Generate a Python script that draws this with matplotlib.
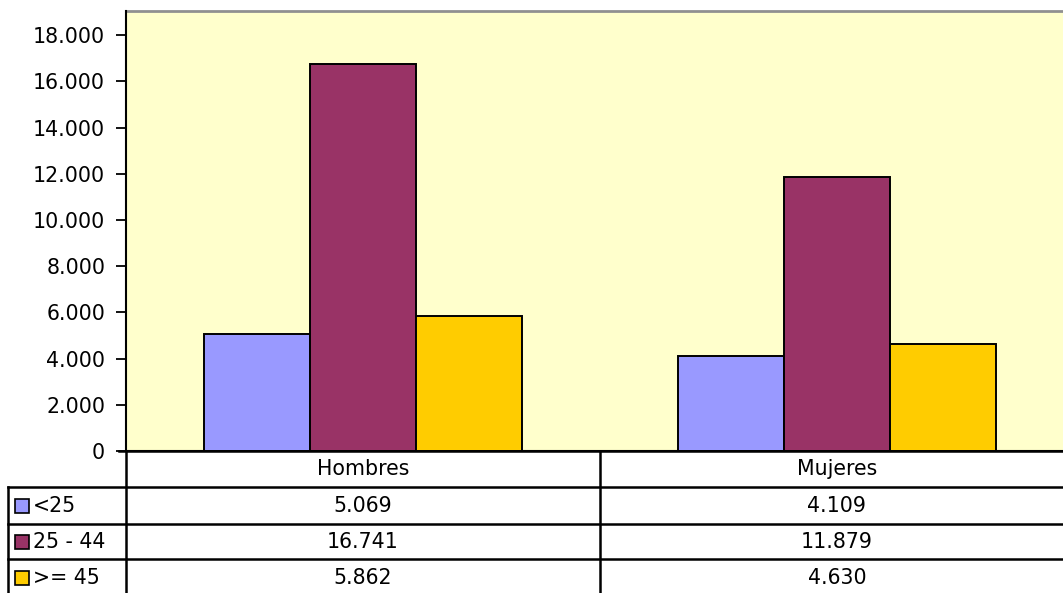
import matplotlib
matplotlib.use("Agg")
import matplotlib.pyplot as plt
import numpy as np
from matplotlib.lines import Line2D
from matplotlib.patches import Rectangle
from matplotlib.ticker import FuncFormatter, MultipleLocator
import matplotlib.transforms as mtransforms

categories = ["Hombres", "Mujeres"]
series_names = ["<25", "25 - 44", ">= 45"]
values_lt25 = [5069, 4109]
values_25_44 = [16741, 11879]
values_ge45 = [5862, 4630]
series_values = [values_lt25, values_25_44, values_ge45]
colors = ["#9999FF", "#993366", "#FFCC00"]

W, H = 1063, 593
fig = plt.figure(figsize=(W / 100, H / 100), dpi=100)
plt.rcParams['font.family'] = ['DejaVu Sans']
FS = 14.8

def fx(px):
    return px / W

def fy(py):
    return 1 - py / H

left_px, right_px, top_px, bottom_px = 126, 1074, 11, 451
ax = fig.add_axes([fx(left_px), fy(bottom_px), (right_px - left_px) / W, (bottom_px - top_px) / H])
ax.set_facecolor("#FFFFCC")

x = np.arange(len(categories))
bw = 106 / 474
for i, (name, vals, c) in enumerate(zip(series_names, series_values, colors)):
    ax.bar(x + (i - 1) * bw, vals, width=bw, color=c, edgecolor="black", linewidth=1.4, zorder=3)

ax.set_xlim(-0.5, len(categories) - 0.5)
ax.set_ylim(0, 19050)
ax.yaxis.set_major_locator(MultipleLocator(2000))
fmt = lambda v: f"{v:,.0f}".replace(",", ".")
ax.yaxis.set_major_formatter(FuncFormatter(lambda v, p: fmt(v)))
ax.tick_params(axis="y", direction="out", length=7, width=1.3, labelsize=FS, pad=8)
ax.set_xticks([])
ax.spines["right"].set_visible(False)
ax.spines["top"].set_color("#909090")
ax.spines["top"].set_linewidth(2)
ax.spines["left"].set_linewidth(1.5)
ax.spines["bottom"].set_linewidth(1.5)
ax.spines["left"].set_zorder(5)

# Table
def hline(y, x0, x1, lw=1.8):
    fig.add_artist(Line2D([fx(x0), fx(x1)], [fy(y), fy(y)], color="black", lw=lw, transform=fig.transFigure))

def vline(xp, y0, y1, lw=1.8):
    fig.add_artist(Line2D([fx(xp), fx(xp)], [fy(y0), fy(y1)], color="black", lw=lw, transform=fig.transFigure))

row_edges = [451, 487, 524, 559, 596]
hline(451, 119, 1070)
for y in row_edges[1:4]:
    hline(y, 8, 1070)
vline(126, 451, 600)
vline(8, 487, 600)
vline(600, 451, 600)

tr = mtransforms.blended_transform_factory(ax.transData, fig.transFigure)
hdr_y = (row_edges[0] + row_edges[1]) / 2
for xi, cat in zip(x, categories):
    fig.text(xi, fy(hdr_y), cat, transform=tr, ha="center", va="center", fontsize=FS)

for r, (name, vals, c) in enumerate(zip(series_names, series_values, colors)):
    yc = (row_edges[r + 1] + row_edges[r + 2]) / 2
    fig.add_artist(Rectangle((fx(15), fy(yc + 7)), 14 / W, 14 / H, facecolor=c, edgecolor="black",
                             lw=1.2, transform=fig.transFigure))
    fig.text(fx(33), fy(yc), name, ha="left", va="center", fontsize=FS)
    for xi, v in zip(x, vals):
        fig.text(xi, fy(yc), fmt(v), transform=tr, ha="center", va="center", fontsize=FS)

fig.savefig("out.png", dpi=100)
